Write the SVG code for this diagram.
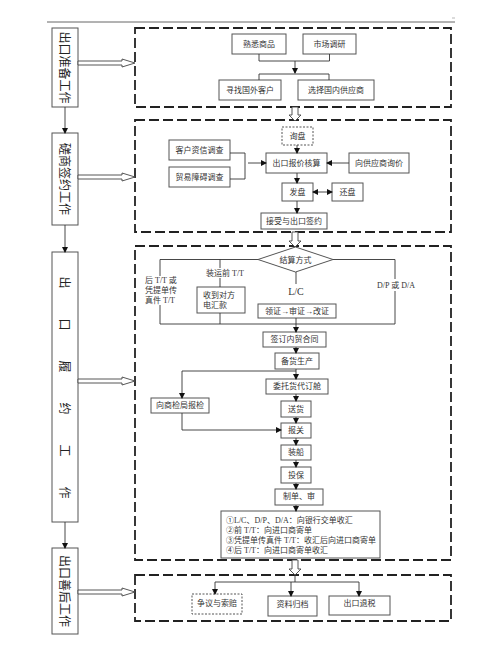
<svg xmlns="http://www.w3.org/2000/svg" width="500" height="651" viewBox="0 0 500 651">
<defs>
<marker id="ah" markerWidth="6" markerHeight="6" refX="5" refY="3" orient="auto" markerUnits="userSpaceOnUse">
<path d="M0,0 L6,3 L0,6 z" fill="#111"/>
</marker>
<marker id="ahs" markerWidth="6" markerHeight="6" refX="1" refY="3" orient="auto" markerUnits="userSpaceOnUse">
<path d="M6,0 L0,3 L6,6 z" fill="#111"/>
</marker>
<style>
.frame{fill:none;stroke:#222;stroke-width:1.8;stroke-dasharray:10 4}
.side{fill:#fff;stroke:#555;stroke-width:1}
.node{fill:#fff;stroke:#555;stroke-width:1}
.dot{fill:#fff;stroke:#555;stroke-width:1;stroke-dasharray:2 1.5}
.ln{fill:none;stroke:#333;stroke-width:0.9}
.ar{fill:none;stroke:#333;stroke-width:0.9;marker-end:url(#ah)}
.hol{fill:#fff;stroke:#444;stroke-width:0.9}
.t{font-family:"Liberation Serif","Noto Sans CJK SC",serif;font-size:8px;fill:#333;text-anchor:middle;dominant-baseline:central}
.tl{font-family:"Liberation Serif","Noto Sans CJK SC",serif;font-size:8px;fill:#333;text-anchor:start;dominant-baseline:central}
.st{font-family:"Noto Sans CJK SC",sans-serif;font-size:12px;fill:#222;text-anchor:middle;dominant-baseline:central}
</style>
</defs>
<rect width="500" height="651" fill="#fff"/>
<line x1="47" y1="22" x2="455" y2="22" stroke="#666" stroke-width="1"/>
<line x1="452" y1="18" x2="455" y2="18" stroke="#888" stroke-width="0.6"/>

<!-- frames -->
<g id="frames">
<rect class="frame" x="135" y="28" width="316" height="79"/>
<rect class="frame" x="135" y="120" width="316" height="112"/>
<rect class="frame" x="135" y="246" width="316" height="314"/>
<rect class="frame" x="135" y="575" width="316" height="46"/>
</g>

<!-- left stage boxes -->
<g id="stage1"><rect class="side" x="52" y="28" width="26" height="79"/>
<text class="st" transform="translate(65,67.5) rotate(90)">出口准备工作</text></g>
<g id="stage2"><rect class="side" x="52" y="133" width="26" height="92"/>
<text class="st" transform="translate(65,179) rotate(90)">磋商签约工作</text></g>
<g id="stage3"><rect class="side" x="52" y="252" width="26" height="270"/>
<text class="st" transform="translate(65,387.5) rotate(90)" x="-105 -63 -21 21 63 105" y="0 0 0 0 0 0">出口履约工作</text></g>
<g id="stage4"><rect class="side" x="52" y="548" width="26" height="86"/>
<text class="st" transform="translate(65,591) rotate(90)">出口善后工作</text></g>

<!-- frame 1 nodes -->
<g id="n_shuxi"><rect class="node" x="232" y="34" width="54" height="20"/><text class="t" x="259" y="44">熟悉商品</text></g>
<g id="n_shichang"><rect class="node" x="303" y="34" width="53" height="20"/><text class="t" x="329.5" y="44">市场调研</text></g>
<g id="n_xunzhao"><rect class="node" x="219" y="80" width="62" height="20"/><text class="t" x="250" y="90">寻找国外客户</text></g>
<g id="n_xuanze"><rect class="node" x="298" y="80" width="76" height="20"/><text class="t" x="336" y="90">选择国内供应商</text></g>

<!-- frame 2 nodes -->
<g id="n_xunpan"><rect class="dot" x="282" y="127" width="31" height="18"/><text class="t" x="297.5" y="136">询盘</text></g>
<g id="n_baojia"><rect class="node" x="266" y="153" width="61" height="20"/><text class="t" x="296.5" y="163">出口报价核算</text></g>
<g id="n_zixin"><rect class="node" x="169" y="140" width="61" height="20"/><text class="t" x="199.5" y="150">客户资信调查</text></g>
<g id="n_zhangai"><rect class="node" x="169" y="167" width="61" height="20"/><text class="t" x="199.5" y="177">贸易障碍调查</text></g>
<g id="n_gongying"><rect class="node" x="349" y="153" width="60" height="20"/><text class="t" x="379" y="163">向供应商询价</text></g>
<g id="n_fapan"><rect class="node" x="282" y="183" width="31" height="18"/><text class="t" x="297.5" y="192">发盘</text></g>
<g id="n_huanpan"><rect class="node" x="332" y="183" width="31" height="18"/><text class="t" x="347.5" y="192">还盘</text></g>
<g id="n_jieshou"><rect class="node" x="261" y="213" width="66" height="16"/><text class="t" x="294" y="221">接受与出口签约</text></g>

<!-- frame 3 nodes -->
<g id="n_jiesuan"><polygon class="node" points="258,259.5 295.5,247 333,259.5 295.5,272"/><text class="t" x="295.5" y="260">结算方式</text></g>
<g id="n_shoudao"><rect class="node" x="197" y="287" width="48" height="26"/><text class="tl" x="203" y="295">收到对方</text><text class="tl" x="203" y="305">电汇款</text></g>
<g id="n_lingzheng"><rect class="node" x="258" y="304" width="78" height="14"/><text class="t" x="297" y="311">领证→审证→改证</text></g>
<g id="n_neimao"><rect class="node" x="263" y="332" width="63" height="15"/><text class="t" x="294.5" y="339.5">签订内贸合同</text></g>
<g id="n_beihuo"><rect class="node" x="275" y="353" width="44" height="16"/><text class="t" x="297" y="361">备货生产</text></g>
<g id="n_weituo"><rect class="node" x="266" y="379" width="62" height="15"/><text class="t" x="297" y="386.5">委托货代订舱</text></g>
<g id="n_shangjian"><rect class="node" x="151" y="398" width="58" height="15"/><text class="t" x="180" y="405.5">向商检局报检</text></g>
<g id="n_songhuo"><rect class="node" x="281" y="401" width="30" height="16"/><text class="t" x="296" y="409">送货</text></g>
<g id="n_baoguan"><rect class="node" x="281" y="423" width="30" height="15"/><text class="t" x="296" y="430.5">报关</text></g>
<g id="n_zhuangchuan"><rect class="node" x="281" y="445" width="30" height="15"/><text class="t" x="296" y="452.5">装船</text></g>
<g id="n_toubao"><rect class="node" x="281" y="467" width="30" height="16"/><text class="t" x="296" y="475">投保</text></g>
<g id="n_zhidan"><rect class="node" x="275" y="489" width="48" height="16"/><text class="t" x="299" y="496">制单、审</text></g>
<g id="n_shouhui"><rect class="node" x="221" y="511" width="159" height="47"/>
<text class="tl" x="226" y="520">①L/C、D/P、D/A：向银行交单收汇</text>
<text class="tl" x="226" y="530">②前 T/T：向进口商寄单</text>
<text class="tl" x="226" y="540">③凭提单传真件 T/T：收汇后向进口商寄单</text>
<text class="tl" x="226" y="550">④后 T/T：向进口商寄单收汇</text></g>

<!-- frame 4 nodes -->
<g id="n_zhengyi"><rect class="dot" x="192" y="594" width="50" height="20"/><text class="t" x="217" y="603">争议与索赔</text></g>
<g id="n_ziliao"><rect class="node" x="268" y="596" width="49" height="20"/><text class="t" x="292.5" y="604">资料归档</text></g>
<g id="n_tuishui"><rect class="node" x="329" y="596" width="61" height="19"/><text class="t" x="359.5" y="603">出口退税</text></g>

<!-- branch labels -->
<g id="labels">
<text class="tl" x="145" y="280">后 T/T 或</text>
<text class="tl" x="145" y="290">凭提单传</text>
<text class="tl" x="145" y="300">真件 T/T</text>
<text class="t" x="225" y="273">装运前 T/T</text>
<text class="t" x="296" y="291" style="font-size:10px">L/C</text>
<text class="t" x="396" y="285">D/P 或 D/A</text>
</g>

<!-- connectors -->
<g id="connectors">
<!-- left column -->
<line class="ar" x1="65" y1="107" x2="65" y2="133"/>
<line class="ar" x1="65" y1="225" x2="65" y2="252"/>
<line class="ar" x1="65" y1="522" x2="65" y2="548"/>
<!-- hollow horizontal arrows -->
<path class="hol" d="M78,61 L122,61 L122,59 L135,63 L122,67 L122,65 L78,65 z"/>
<path class="hol" d="M78,175 L122,175 L122,173 L135,177 L122,181 L122,179 L78,179 z"/>
<path class="hol" d="M78,379 L122,379 L122,377 L135,381 L122,385 L122,383 L78,383 z"/>
<path class="hol" d="M78,590 L122,590 L122,588 L135,592 L122,596 L122,594 L78,594 z"/>
<!-- hollow vertical arrows -->
<path class="hol" d="M292,107 L292,115 L289,115 L295,121 L301,115 L298,115 L298,107 z"/>
<path class="hol" d="M292,232 L292,241 L289,241 L295,247 L301,241 L298,241 L298,232 z"/>
<path class="hol" d="M292,560 L292,569 L289,569 L295,575 L301,569 L298,569 L298,560 z"/>
<!-- frame 1 -->
<path class="ln" d="M259,54 V61 H329.5 V54"/>
<line class="ar" x1="295" y1="61" x2="295" y2="73"/>
<path class="ln" d="M259,80 V74 H329 V80"/>
<!-- frame 2 -->
<line class="ar" x1="297" y1="145" x2="297" y2="153"/>
<path class="ln" d="M230,153 H245 V179 H230"/>
<line class="ar" x1="248" y1="163" x2="266" y2="163"/>
<line class="ar" x1="349" y1="163" x2="327" y2="163"/>
<line class="ar" x1="297" y1="173" x2="297" y2="183"/>
<line class="ln" x1="313" y1="192" x2="332" y2="192" style="marker-start:url(#ahs);marker-end:url(#ah)"/>
<line class="ar" x1="297" y1="201" x2="297" y2="213"/>
<!-- frame 3 -->
<path class="ln" d="M258,259.5 H160 V276"/>
<line class="ln" x1="160" y1="305" x2="160" y2="324"/>
<line class="ln" x1="220" y1="259.5" x2="220" y2="268"/>
<line class="ln" x1="220" y1="278" x2="220" y2="287"/>
<line class="ln" x1="220" y1="313" x2="220" y2="324"/>
<path class="ln" d="M333,259.5 H395 V279"/>
<line class="ln" x1="395" y1="291" x2="395" y2="324"/>
<line class="ln" x1="160" y1="324" x2="395" y2="324"/>
<line class="ln" x1="296" y1="272" x2="296" y2="284"/>
<line class="ar" x1="296" y1="318" x2="296" y2="332"/>
<line class="ar" x1="296" y1="347" x2="296" y2="353"/>
<line class="ar" x1="296" y1="369" x2="296" y2="379"/>
<path class="ar" d="M296,371 H182 V398"/>
<path class="ar" d="M182,413 V430 H281"/>
<line class="ar" x1="296" y1="394" x2="296" y2="401"/>
<line class="ar" x1="296" y1="417" x2="296" y2="423"/>
<line class="ar" x1="296" y1="438" x2="296" y2="445"/>
<line class="ar" x1="296" y1="460" x2="296" y2="467"/>
<line class="ar" x1="296" y1="483" x2="296" y2="489"/>
<line class="ar" x1="296" y1="505" x2="296" y2="511"/>
<!-- frame 4 -->
<line class="ln" x1="215" y1="582" x2="359" y2="582"/>
<line class="ln" x1="295" y1="575" x2="295" y2="582"/>
<line class="ar" x1="215" y1="582" x2="215" y2="594"/>
<line class="ar" x1="291" y1="582" x2="291" y2="596"/>
<line class="ar" x1="359" y1="582" x2="359" y2="596"/>
</g>
</svg>
